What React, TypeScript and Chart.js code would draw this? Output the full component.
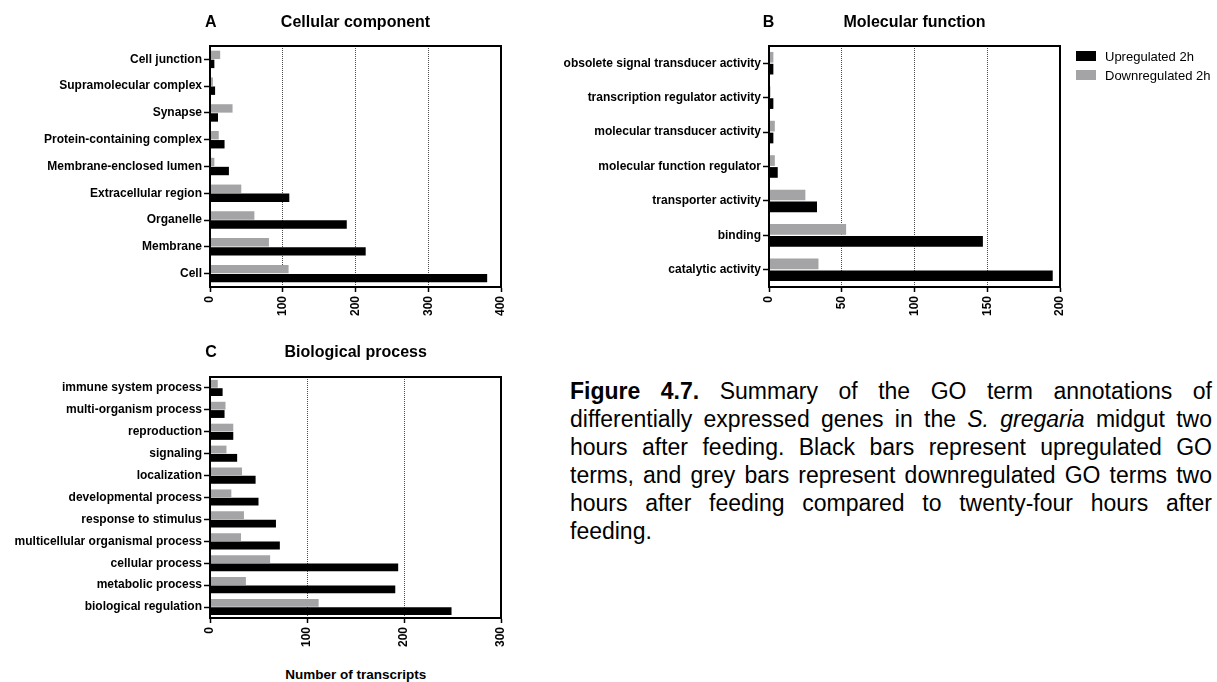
import React, { useEffect, useRef } from "react";
import { Chart, registerables } from "chart.js";

Chart.register(...registerables);

const FONT = "Arial, 'Liberation Sans', Helvetica, sans-serif";
const BLACK = "#000000";
const GREY = "#a4a4a6";

// Cellular component
const ccCategories = [
  "Cell junction",
  "Supramolecular complex",
  "Synapse",
  "Protein-containing complex",
  "Membrane-enclosed lumen",
  "Extracellular region",
  "Organelle",
  "Membrane",
  "Cell",
];
const ccUp = [6, 7, 11, 20, 26, 109, 188, 214, 381];
const ccDown = [14, 4, 31, 12, 6, 43, 61, 81, 108];
const ccTicks = [0, 100, 200, 300, 400];

// Molecular function
const mfCategories = [
  "obsolete signal transducer activity",
  "transcription regulator activity",
  "molecular transducer activity",
  "molecular function regulator",
  "transporter activity",
  "binding",
  "catalytic activity",
];
const mfUp = [3, 3, 3, 6, 33, 147, 195];
const mfDown = [3, 1, 4, 4, 25, 53, 34];
const mfTicks = [0, 50, 100, 150, 200];

// Biological process
const bpCategories = [
  "immune system process",
  "multi-organism process",
  "reproduction",
  "signaling",
  "localization",
  "developmental process",
  "response to stimulus",
  "multicellular organismal process",
  "cellular process",
  "metabolic process",
  "biological regulation",
];
const bpUp = [13, 15, 24, 28, 47, 50, 68, 72, 194, 191, 249];
const bpDown = [8, 16, 24, 17, 33, 22, 35, 32, 62, 37, 112];
const bpTicks = [0, 100, 200, 300];

const seriesLabels = { up: "Upregulated 2h", down: "Downregulated 2h" };

// Black box around the plotting area
const framePlugin = {
  id: "frame",
  afterDraw(chart: any) {
    const { ctx, chartArea } = chart;
    const { left, top, right, bottom } = chartArea;
    ctx.save();
    ctx.strokeStyle = "#000";
    ctx.lineWidth = 2;
    ctx.strokeRect(left, top, right - left, bottom - top);
    ctx.restore();
  },
};

type PanelProps = {
  left: number;
  top: number;
  width: number;
  height: number;
  labels: string[];
  up: number[];
  down: number[];
  ticks: number[];
  yWidth: number;
  padTop: number;
  padRight: number;
  padBottom: number;
  catPct: number;
  barPct: number;
};

function Panel(p: PanelProps) {
  const ref = useRef<HTMLCanvasElement>(null);

  useEffect(() => {
    const canvas = ref.current;
    if (!canvas) return;
    const tickFont = { family: FONT, size: 12, weight: "bold" as const };
    const chart = new Chart(canvas, {
      type: "bar",
      data: {
        labels: p.labels,
        datasets: [
          {
            label: seriesLabels.down,
            data: p.down,
            backgroundColor: GREY,
            borderWidth: 0,
            categoryPercentage: p.catPct,
            barPercentage: p.barPct,
          },
          {
            label: seriesLabels.up,
            data: p.up,
            backgroundColor: BLACK,
            borderWidth: 0,
            categoryPercentage: p.catPct,
            barPercentage: p.barPct,
          },
        ],
      },
      options: {
        indexAxis: "y",
        responsive: false,
        animation: false,
        devicePixelRatio: 1,
        layout: {
          autoPadding: false,
          padding: { left: 0, top: p.padTop, right: p.padRight, bottom: p.padBottom },
        },
        plugins: {
          legend: { display: false },
          tooltip: { enabled: false },
          title: { display: false },
        },
        scales: {
          x: {
            type: "linear",
            min: p.ticks[0],
            max: p.ticks[p.ticks.length - 1],
            afterBuildTicks: (scale: any) => {
              scale.ticks = p.ticks.map((v) => ({ value: v }));
            },
            afterFit: (scale: any) => {
              scale.height = 40;
              scale.paddingLeft = 0;
              scale.paddingRight = 0;
            },
            ticks: {
              autoSkip: false,
              minRotation: 90,
              maxRotation: 90,
              padding: 4,
              color: "#000",
              font: tickFont,
            },
            grid: {
              display: true,
              drawOnChartArea: true,
              drawTicks: true,
              tickLength: 5,
              color: "#4a4a4a",
              lineWidth: 1,
              tickColor: "#000",
              tickWidth: 1.5,
            },
            border: { display: true, color: "#000", width: 2, dash: [1, 1] },
          },
          y: {
            type: "category",
            afterFit: (scale: any) => {
              scale.width = p.yWidth;
              scale.paddingTop = 0;
              scale.paddingBottom = 0;
            },
            ticks: {
              autoSkip: false,
              padding: 2,
              color: "#000",
              font: tickFont,
            },
            grid: {
              display: true,
              offset: false,
              drawOnChartArea: false,
              drawTicks: true,
              tickLength: 6,
              tickColor: "#000",
              tickWidth: 1.5,
            },
            border: { display: true, color: "#000", width: 2 },
          },
        },
      },
      plugins: [framePlugin],
    } as any);
    return () => chart.destroy();
  }, []);

  return (
    <canvas
      ref={ref}
      width={p.width}
      height={p.height}
      style={{ position: "absolute", left: p.left, top: p.top, width: p.width, height: p.height }}
    />
  );
}

function Label(props: {
  x: number;
  y: number;
  size: number;
  bold?: boolean;
  align?: "center" | "left";
  children: React.ReactNode;
}) {
  const { x, y, size, bold, align = "center", children } = props;
  return (
    <div
      style={{
        position: "absolute",
        left: x,
        top: y - size * 0.5,
        transform: align === "center" ? "translateX(-50%)" : undefined,
        fontFamily: FONT,
        fontSize: size,
        fontWeight: bold ? "bold" : "normal",
        lineHeight: `${size}px`,
        whiteSpace: "nowrap",
        color: "#000",
      }}
    >
      {children}
    </div>
  );
}

const captionLines: React.ReactNode[] = [
  <>
    <b>Figure 4.7.</b> Summary of the GO term annotations of
  </>,
  <>
    differentially expressed genes in the <i>S. gregaria</i> midgut two
  </>,
  <>hours after feeding. Black bars represent upregulated GO</>,
  <>terms, and grey bars represent downregulated GO terms two</>,
  <>hours after feeding compared to twenty-four hours after</>,
  <>feeding.</>,
];

export default function App() {
  return (
    <div
      style={{
        position: "absolute",
        left: 0,
        top: 0,
        width: 1217,
        height: 682,
        background: "#fff",
        overflow: "hidden",
        fontFamily: FONT,
      }}
    >
      <Panel
        left={0}
        top={0}
        width={520}
        height={330}
        labels={ccCategories}
        up={ccUp}
        down={ccDown}
        ticks={ccTicks}
        yWidth={210}
        padTop={46}
        padRight={19}
        padBottom={3}
        catPct={0.675}
        barPct={0.93}
      />
      <Panel
        left={540}
        top={0}
        width={540}
        height={330}
        labels={mfCategories}
        up={mfUp}
        down={mfDown}
        ticks={mfTicks}
        yWidth={229}
        padTop={46}
        padRight={20}
        padBottom={3}
        catPct={0.69}
        barPct={0.9}
      />
      <Panel
        left={0}
        top={330}
        width={520}
        height={335}
        labels={bpCategories}
        up={bpUp}
        down={bpDown}
        ticks={bpTicks}
        yWidth={210}
        padTop={47}
        padRight={19}
        padBottom={7}
        catPct={0.76}
        barPct={0.94}
      />

      <Label x={210.7} y={21.5} size={16} bold>A</Label>
      <Label x={355.5} y={21.5} size={16} bold>Cellular component</Label>
      <Label x={768.5} y={21.5} size={16} bold>B</Label>
      <Label x={914.5} y={21.5} size={16} bold>Molecular function</Label>
      <Label x={211} y={351.7} size={16} bold>C</Label>
      <Label x={355.7} y={351.7} size={16} bold>Biological process</Label>
      <Label x={355.8} y={675} size={13.5} bold>Number of transcripts</Label>

      {/* Series key */}
      <div style={{ position: "absolute", left: 1076, top: 51, width: 20, height: 10, background: BLACK }} />
      <div style={{ position: "absolute", left: 1076, top: 70, width: 20, height: 10, background: GREY }} />
      <Label x={1105} y={56.5} size={13} align="left">{seriesLabels.up}</Label>
      <Label x={1105} y={75.5} size={13} align="left">{seriesLabels.down}</Label>

      {/* Figure caption */}
      <div
        style={{
          position: "absolute",
          left: 570,
          top: 377,
          width: 642,
          fontFamily: FONT,
          fontSize: 23,
          lineHeight: "28px",
          color: "#000",
        }}
      >
        {captionLines.map((line, i) => (
          <div
            key={i}
            style={{
              textAlign: "justify",
              textAlignLast: i === captionLines.length - 1 ? "left" : "justify",
              whiteSpace: "nowrap",
            }}
          >
            {line}
          </div>
        ))}
      </div>
    </div>
  );
}
